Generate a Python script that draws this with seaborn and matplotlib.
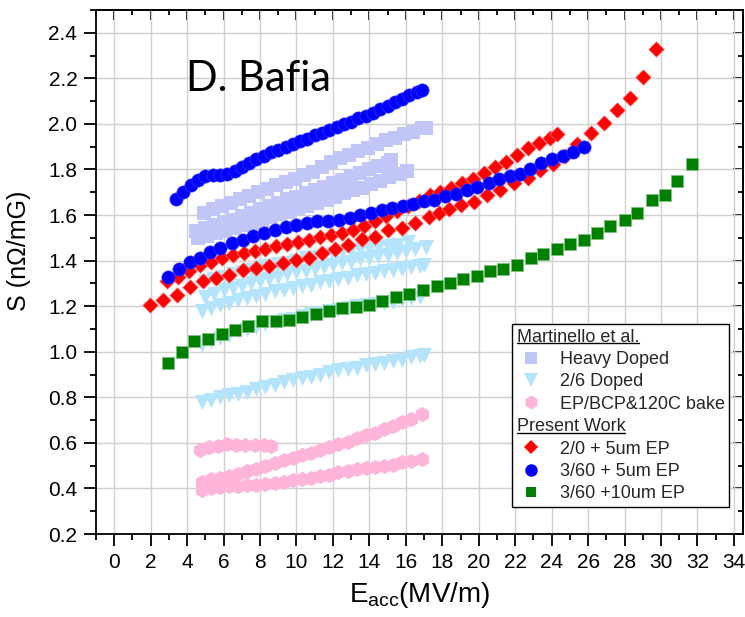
import matplotlib
matplotlib.use("Agg")
import matplotlib.pyplot as plt
from matplotlib import font_manager
from matplotlib.lines import Line2D
from matplotlib.ticker import MultipleLocator
import seaborn as sns

# ---- Martinello et al. : Heavy Doped (three runs) ----
heavy1_x = [4.9, 5.4, 5.9, 6.4, 6.9, 7.4, 7.9, 8.4, 8.9, 9.4, 9.9, 10.4, 10.9, 11.4, 11.9, 12.4,
            12.9, 13.4, 13.9, 14.4, 14.9, 15.4, 15.9, 16.4, 16.9, 17.1]
heavy1_y = [1.61, 1.625, 1.64, 1.655, 1.67, 1.685, 1.70, 1.715, 1.73, 1.745, 1.76, 1.775, 1.79, 1.81,
            1.835, 1.85, 1.865, 1.88, 1.895, 1.91, 1.93, 1.94, 1.955, 1.965, 1.98, 1.98]
heavy2_x = [4.5, 5.0, 5.5, 6.0, 6.5, 7.0, 7.5, 8.0, 8.5, 9.0, 9.5, 10.0, 10.5, 11.0, 11.5, 12.0,
            12.5, 13.0, 13.5, 14.0, 14.5, 15.0, 15.2]
heavy2_y = [1.53, 1.545, 1.555, 1.565, 1.58, 1.595, 1.61, 1.625, 1.64, 1.655, 1.67, 1.68, 1.695, 1.71,
            1.725, 1.74, 1.755, 1.77, 1.785, 1.80, 1.815, 1.83, 1.84]
heavy3_x = [4.6, 5.1, 5.6, 6.1, 6.6, 7.1, 7.6, 8.1, 8.6, 9.1, 9.6, 10.1, 10.6, 11.1, 11.6, 12.1,
            12.6, 13.1, 13.6, 14.1, 14.6, 15.1, 15.6, 16.05]
heavy3_y = [1.50, 1.51, 1.52, 1.53, 1.545, 1.555, 1.565, 1.58, 1.59, 1.605, 1.615, 1.63, 1.64, 1.655,
            1.665, 1.68, 1.695, 1.71, 1.72, 1.735, 1.75, 1.765, 1.78, 1.795]

# ---- Martinello et al. : 2/6 Doped (five runs) ----
d26a_x = [5.0, 5.5, 6.0, 6.5, 7.0, 7.5, 8.0, 8.5, 9.0, 9.5, 10.0, 10.5, 11.0, 11.5, 12.0, 12.5,
          13.0, 13.5, 14.0, 14.5, 15.0, 15.5, 16.1]
d26a_y = [1.31, 1.32, 1.33, 1.34, 1.35, 1.36, 1.37, 1.375, 1.385, 1.39, 1.40, 1.41, 1.415, 1.425,
          1.43, 1.44, 1.445, 1.45, 1.455, 1.46, 1.465, 1.47, 1.48]
d26b_x = [5.0, 5.5, 6.0, 6.5, 7.0, 7.5, 8.0, 8.5, 9.0, 9.5, 10.0, 10.5, 11.0, 11.5, 12.0, 12.5,
          13.0, 13.5, 14.0, 14.5, 15.0, 15.5, 16.0, 16.5, 17.1]
d26b_y = [1.24, 1.255, 1.27, 1.28, 1.29, 1.30, 1.31, 1.32, 1.33, 1.34, 1.35, 1.355, 1.365, 1.37,
          1.38, 1.39, 1.395, 1.405, 1.41, 1.42, 1.425, 1.435, 1.44, 1.45, 1.46]
d26c_x = [4.8, 5.3, 5.8, 6.3, 6.8, 7.3, 7.8, 8.3, 8.8, 9.3, 9.8, 10.3, 10.8, 11.3, 11.8, 12.3,
          12.8, 13.3, 13.8, 14.3, 14.8, 15.3, 15.8, 16.3, 16.8, 17.0]
d26c_y = [1.18, 1.19, 1.205, 1.215, 1.225, 1.235, 1.245, 1.255, 1.265, 1.27, 1.28, 1.29, 1.295,
          1.305, 1.31, 1.32, 1.325, 1.335, 1.34, 1.345, 1.355, 1.36, 1.365, 1.37, 1.375, 1.38]
d26d_x = [4.8, 5.3, 5.8, 6.3, 6.8, 7.3, 7.8, 8.3, 8.8, 9.3, 9.8, 10.3, 10.8, 11.3, 11.8, 12.3,
          12.8, 13.3, 13.8, 14.3, 14.8, 15.3, 15.8, 16.3, 16.8]
d26d_y = [1.03, 1.045, 1.06, 1.075, 1.09, 1.10, 1.11, 1.12, 1.13, 1.14, 1.145, 1.155, 1.165, 1.17,
          1.18, 1.185, 1.19, 1.20, 1.205, 1.21, 1.215, 1.22, 1.23, 1.235, 1.24]
d26e_x = [4.8, 5.3, 5.8, 6.3, 6.8, 7.3, 7.8, 8.3, 8.8, 9.3, 9.8, 10.3, 10.8, 11.3, 11.8, 12.3,
          12.8, 13.3, 13.8, 14.3, 14.8, 15.3, 15.8, 16.3, 16.8, 17.0]
d26e_y = [0.78, 0.79, 0.80, 0.81, 0.815, 0.825, 0.835, 0.845, 0.855, 0.865, 0.875, 0.885, 0.89,
          0.90, 0.91, 0.92, 0.925, 0.93, 0.94, 0.945, 0.95, 0.96, 0.965, 0.975, 0.98, 0.985]

# ---- Martinello et al. : EP/BCP & 120C bake (three runs) ----
bake1_x = [4.7, 5.2, 5.7, 6.2, 6.7, 7.2, 7.7, 8.2, 8.6]
bake1_y = [0.57, 0.58, 0.585, 0.595, 0.59, 0.59, 0.59, 0.59, 0.585]
bake2_x = [4.8, 5.3, 5.8, 6.3, 6.8, 7.3, 7.8, 8.3, 8.8, 9.3, 9.8, 10.3, 10.8, 11.3, 11.8, 12.3,
           12.8, 13.3, 13.8, 14.3, 14.8, 15.3, 15.8, 16.3, 16.9]
bake2_y = [0.43, 0.44, 0.445, 0.455, 0.465, 0.475, 0.485, 0.50, 0.51, 0.525, 0.535, 0.545, 0.555,
           0.57, 0.58, 0.595, 0.605, 0.62, 0.635, 0.645, 0.66, 0.675, 0.69, 0.705, 0.725]
bake3_x = [4.8, 5.3, 5.8, 6.3, 6.8, 7.3, 7.8, 8.3, 8.8, 9.3, 9.8, 10.3, 10.8, 11.3, 11.8, 12.3,
           12.8, 13.3, 13.8, 14.3, 14.8, 15.3, 15.8, 16.3, 16.9]
bake3_y = [0.395, 0.40, 0.405, 0.41, 0.41, 0.415, 0.415, 0.42, 0.425, 0.43, 0.435, 0.44, 0.445,
           0.455, 0.46, 0.47, 0.475, 0.485, 0.49, 0.495, 0.50, 0.505, 0.515, 0.52, 0.53]

# ---- Present work : 2/0 + 5um EP (two branches) ----
red_up_x = [2.9, 3.5, 4.1, 4.7, 5.3, 5.9, 6.5, 7.1, 7.7, 8.3, 8.9, 9.5, 10.1, 10.7, 11.3, 11.9,
            12.5, 13.1, 13.7, 14.3, 14.9, 15.5, 16.1, 16.7, 17.3, 17.9, 18.5, 19.1, 19.7, 20.3,
            20.9, 21.5, 22.1, 22.7, 23.3, 23.9, 24.3]
red_up_y = [1.31, 1.33, 1.355, 1.38, 1.395, 1.41, 1.423, 1.433, 1.443, 1.453, 1.463, 1.472, 1.482,
            1.49, 1.502, 1.512, 1.522, 1.535, 1.553, 1.573, 1.595, 1.617, 1.64, 1.663, 1.687, 1.70,
            1.717, 1.74, 1.76, 1.785, 1.81, 1.835, 1.865, 1.893, 1.915, 1.94, 1.955]
red_low_x = [1.95, 2.68, 3.42, 4.15, 4.85, 5.58, 6.3, 7.04, 7.77, 8.5, 9.24, 9.97, 10.7, 11.4,
             12.1, 12.85, 13.58, 14.3, 15.04, 15.78, 16.5, 17.25, 17.8, 18.35, 19.0, 19.75, 20.48,
             21.18, 21.95, 22.68, 23.34, 24.08, 24.75, 25.4, 26.16, 26.86, 27.6, 28.29, 29.0, 29.75]
red_low_y = [1.207, 1.226, 1.25, 1.284, 1.309, 1.324, 1.338, 1.36, 1.368, 1.375, 1.39, 1.404,
             1.41, 1.434, 1.45, 1.47, 1.495, 1.504, 1.533, 1.544, 1.566, 1.59, 1.61, 1.627, 1.646,
             1.658, 1.686, 1.712, 1.742, 1.763, 1.797, 1.826, 1.858, 1.91, 1.958, 2.002, 2.06,
             2.112, 2.207, 2.33]

# ---- Present work : 3/60 + 5um EP (two branches) ----
blue_up_x = [3.4, 3.8, 4.2, 4.6, 5.0, 5.4, 5.8, 6.2, 6.6, 7.0, 7.4, 7.8, 8.2, 8.6, 9.0, 9.4, 9.8,
             10.2, 10.6, 11.0, 11.4, 11.8, 12.2, 12.6, 13.0, 13.4, 13.8, 14.2, 14.6, 15.0, 15.4,
             15.8, 16.2, 16.6, 16.9]
blue_up_y = [1.67, 1.70, 1.73, 1.755, 1.77, 1.775, 1.775, 1.78, 1.795, 1.81, 1.83, 1.845, 1.86,
             1.875, 1.885, 1.90, 1.91, 1.925, 1.935, 1.95, 1.96, 1.975, 1.985, 2.00, 2.01, 2.025,
             2.035, 2.05, 2.065, 2.08, 2.095, 2.11, 2.125, 2.14, 2.15]
blue_low_x = [2.96, 3.56, 4.15, 4.7, 5.25, 5.83, 6.44, 7.04, 7.6, 8.2, 8.8, 9.4, 10.0, 10.56,
              11.14, 11.75, 12.33, 12.94, 13.5, 14.07, 14.68, 15.26, 15.87, 16.4, 16.97, 17.55,
              18.16, 18.75, 19.35, 19.93, 20.54, 21.1, 21.7, 22.24, 22.83, 23.4, 24.0, 24.6,
              25.15, 25.76]
blue_low_y = [1.328, 1.365, 1.393, 1.41, 1.437, 1.455, 1.478, 1.49, 1.507, 1.52, 1.536, 1.548,
              1.558, 1.566, 1.573, 1.573, 1.577, 1.587, 1.598, 1.61, 1.62, 1.632, 1.64, 1.65,
              1.66, 1.668, 1.683, 1.693, 1.709, 1.722, 1.742, 1.76, 1.77, 1.78, 1.80, 1.83, 1.844,
              1.86, 1.878, 1.90]

# ---- Present work : 3/60 +10um EP ----
green_x = [2.95, 3.7, 4.4, 5.15, 5.9, 6.6, 7.35, 8.1, 8.85, 9.6, 10.3, 11.05, 11.8, 12.5, 13.25,
           14.0, 14.7, 15.45, 16.2, 16.95, 17.7, 18.4, 19.15, 19.9, 20.6, 21.35, 22.1, 22.85,
           23.55, 24.3, 25.0, 25.75, 26.5, 27.2, 28.0, 28.7, 29.5, 30.2, 30.9, 31.7]
green_y = [0.95, 1.0, 1.045, 1.056, 1.08, 1.094, 1.114, 1.135, 1.135, 1.138, 1.152, 1.167, 1.18,
           1.19, 1.197, 1.207, 1.224, 1.239, 1.255, 1.27, 1.287, 1.30, 1.32, 1.334, 1.353, 1.364,
           1.38, 1.41, 1.427, 1.45, 1.475, 1.49, 1.52, 1.55, 1.58, 1.61, 1.664, 1.69, 1.75, 1.825]

legend_labels = ["Martinello et al.", "Heavy Doped", "2/6 Doped", "EP/BCP&120C bake",
                 "Present Work", "2/0 + 5um EP", "3/60 + 5um EP", "3/60 +10um EP"]

c_heavy = "#C0C6F8"
c_26 = "#B4E4FB"
c_bake = "#FFB5DA"
c_red = "#FF0000"
c_blue = "#0000FF"
c_green = "#008000"

sns.set_theme(style="white")
installed = {f.name for f in font_manager.fontManager.ttflist}
narrow = "Liberation Sans Narrow" if "Liberation Sans Narrow" in installed else "Liberation Sans"
plt.rcParams["font.family"] = ["Liberation Sans", "DejaVu Sans"]
plt.rcParams["mathtext.fontset"] = "custom"
plt.rcParams["mathtext.rm"] = narrow
plt.rcParams["mathtext.default"] = "rm"

fig = plt.figure(figsize=(7.45, 6.17), dpi=100)
ax = fig.add_axes([96 / 745, 83 / 617, 647 / 745, 524 / 617])

# Martinello data first (drawn underneath)
for xs, ys in [(heavy1_x, heavy1_y), (heavy2_x, heavy2_y), (heavy3_x, heavy3_y)]:
    sns.scatterplot(x=xs, y=ys, ax=ax, marker="s", s=90, color=c_heavy, linewidth=0, zorder=2, legend=False)
for xs, ys in [(d26a_x, d26a_y), (d26b_x, d26b_y), (d26c_x, d26c_y), (d26d_x, d26d_y), (d26e_x, d26e_y)]:
    sns.scatterplot(x=xs, y=ys, ax=ax, marker="v", s=120, color=c_26, linewidth=0, zorder=2, legend=False)
for xs, ys in [(bake1_x, bake1_y), (bake2_x, bake2_y), (bake3_x, bake3_y)]:
    sns.scatterplot(x=xs, y=ys, ax=ax, marker="h", s=120, color=c_bake, linewidth=0, zorder=2, legend=False)

# present work
for xs, ys in [(red_up_x, red_up_y), (red_low_x, red_low_y)]:
    sns.scatterplot(x=xs, y=ys, ax=ax, marker="D", s=62, color=c_red, edgecolor="#ff8080",
                    linewidth=0.5, zorder=3, legend=False)
for xs, ys in [(blue_up_x, blue_up_y), (blue_low_x, blue_low_y)]:
    sns.scatterplot(x=xs, y=ys, ax=ax, marker="o", s=92, color=c_blue, edgecolor="#4040ff",
                    linewidth=0.4, zorder=4, legend=False)
sns.scatterplot(x=green_x, y=green_y, ax=ax, marker="s", s=66, color=c_green, edgecolor="#80c080",
                linewidth=0.6, zorder=5, legend=False)

ax.set_xlim(-1, 34.5)
ax.set_ylim(0.2, 2.5)
ax.xaxis.set_major_locator(MultipleLocator(2))
ax.xaxis.set_minor_locator(MultipleLocator(1))
ax.yaxis.set_major_locator(MultipleLocator(0.2))
ax.yaxis.set_minor_locator(MultipleLocator(0.1))
ax.yaxis.set_major_formatter("{x:.1f}")
ax.grid(True, which="major", color="#d0d0d0", linewidth=1.0)
ax.set_axisbelow(True)
for sp in ax.spines.values():
    sp.set_color("black")
    sp.set_linewidth(1.3)

ax.tick_params(which="both", direction="out", bottom=True, left=True, top=False, right=False,
               colors="black", width=1.3, labelsize=15, labelfontfamily=narrow)
ax.tick_params(which="major", length=8.5, pad=5)
ax.tick_params(which="minor", length=4)

top = ax.secondary_xaxis("top")
top.xaxis.set_major_locator(MultipleLocator(2))
top.xaxis.set_minor_locator(MultipleLocator(1))
top.tick_params(which="both", direction="in", labeltop=False, width=1.3, colors="black")
top.tick_params(which="major", length=7)
top.tick_params(which="minor", length=3.5)
right = ax.secondary_yaxis("right")
right.yaxis.set_major_locator(MultipleLocator(0.2))
right.yaxis.set_minor_locator(MultipleLocator(0.1))
right.tick_params(which="both", direction="in", labelright=False, width=1.3, colors="black")
right.tick_params(which="major", length=7)
right.tick_params(which="minor", length=3.5)
for sec in (top, right):
    for sp in sec.spines.values():
        sp.set_linewidth(1.3)
        sp.set_color("black")

ax.set_xlabel(r"E$_{\mathrm{acc}}$(MV/m)", fontsize=20, family=narrow, labelpad=6, color="black")
ax.set_ylabel("S (nΩ/mG)", fontsize=18, family=narrow, labelpad=6, color="black")
ax.yaxis.set_label_coords(-0.1, 0.54)

ax.text(3.95, 2.143, "D. Bafia", fontsize=30, family=["Lato", "DejaVu Sans"], va="baseline",
        ha="left", color="black", zorder=6)

# legend with two underlined group headers
blank1 = Line2D([], [], linestyle="none")
blank2 = Line2D([], [], linestyle="none")
handles = [
    blank1,
    Line2D([], [], linestyle="none", marker="s", markersize=8, color=c_heavy, markeredgewidth=0),
    Line2D([], [], linestyle="none", marker="v", markersize=10, color=c_26, markeredgewidth=0),
    Line2D([], [], linestyle="none", marker="h", markersize=10, color=c_bake, markeredgewidth=0),
    blank2,
    Line2D([], [], linestyle="none", marker="D", markersize=7.5, color=c_red, markeredgewidth=0),
    Line2D([], [], linestyle="none", marker="o", markersize=9, color=c_blue, markeredgewidth=0),
    Line2D([], [], linestyle="none", marker="s", markersize=7, color=c_green, markeredgewidth=0),
]
leg_fs = 13
hl, hp = 1.6, 0.8
leg = ax.legend(handles, legend_labels, loc="upper left", bbox_to_anchor=(512 / 745, 293 / 617),
                bbox_transform=fig.transFigure, frameon=True, fancybox=False, framealpha=1,
                edgecolor="black", handlelength=hl, handletextpad=hp,
                labelspacing=0.3, borderpad=0.25, borderaxespad=0,
                prop={"family": "Liberation Sans", "size": leg_fs})
leg.get_frame().set_linewidth(1.0)
leg.set_zorder(10)
shift_px = (hl + hp) * leg_fs * fig.dpi / 72
texts = leg.get_texts()
for i in (0, 4):
    texts[i].set_x(-shift_px)

fig.canvas.draw()
renderer = fig.canvas.get_renderer()
inv = fig.transFigure.inverted()
for i in (0, 4):
    bb = texts[i].get_window_extent(renderer)
    (x0, y0), (x1, _) = inv.transform([(bb.x0, bb.y0 + 2.5), (bb.x1, bb.y0 + 2.5)])
    fig.add_artist(Line2D([x0, x1], [y0, y0], transform=fig.transFigure, color="black",
                          linewidth=1.0, zorder=11))

fig.savefig("out.png", dpi=100)
